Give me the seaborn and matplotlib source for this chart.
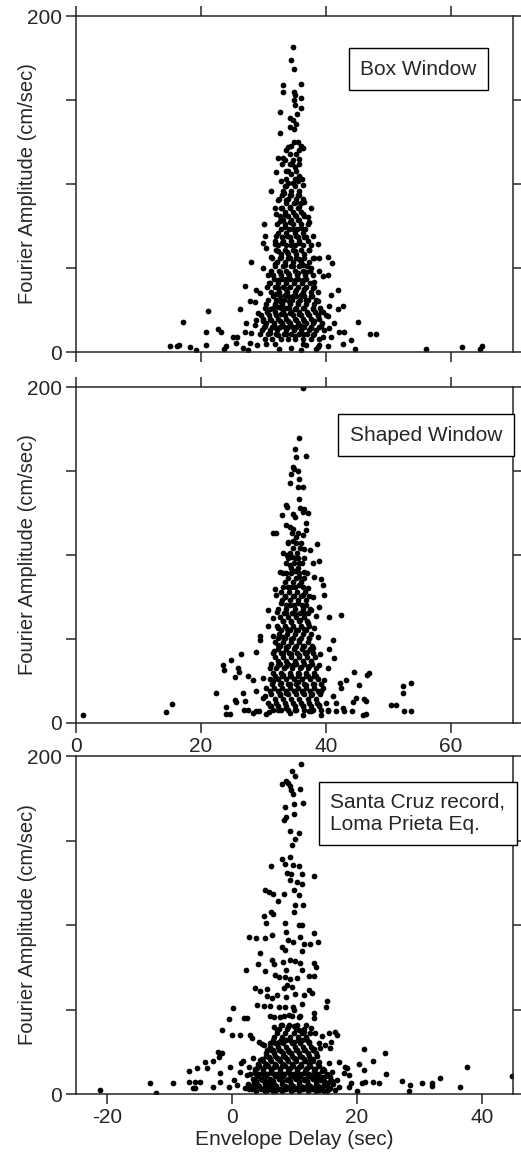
import pandas as pd
import seaborn as sns
import matplotlib.pyplot as plt

sns.set_style("ticks")
plt.rcParams["font.family"] = ["Liberation Sans", "DejaVu Sans"]
plt.rcParams["axes.unicode_minus"] = False

# ---- Box Window: (envelope delay, amplitude) ----
box_points = [
    (34.7, 181.5), (34.4, 173.8), (34.9, 168.5), (33.1, 159.1), (36.0, 159.5), (33.1, 155.0),
    (34.9, 154.6), (35.0, 153.0), (36.0, 151.4), (34.9, 150.2), (35.0, 147.3), (36.0, 145.3),
    (32.7, 142.8), (35.4, 141.6), (34.2, 139.2), (34.7, 138.0), (34.9, 133.0), (34.3, 133.9),
    (35.2, 136.0), (32.6, 130.2),
    (34.0, 122.0), (34.5, 122.5), (36.1, 122.5), (36.3, 121.7), (33.6, 120.0), (35.7, 120.0),
    (32.3, 115.6), (33.1, 115.6), (33.5, 114.0), (34.7, 114.3), (35.7, 115.0), (34.2, 112.0),
    (35.0, 110.0), (33.7, 108.0), (32.1, 107.0), (34.5, 106.0), (35.8, 105.0), (32.9, 102.0),
    (34.0, 100.7), (34.8, 100.7), (35.5, 101.7), (36.4, 99.7), (33.4, 98.7),
    (31.3, 95.6), (33.3, 94.6), (34.5, 93.6), (35.8, 93.2), (32.3, 90.5), (33.7, 90.5),
    (35.3, 89.5), (36.6, 89.5), (31.8, 85.9), (32.9, 85.5), (34.2, 86.5), (35.8, 86.5),
    (37.7, 85.5), (32.1, 82.4), (33.4, 81.8), (35.0, 81.4), (36.3, 82.4), (37.1, 80.4),
    (32.6, 77.7), (34.2, 77.3), (35.5, 78.3), (37.4, 77.3), (30.1, 76.3),
    (33.4, 74.3), (34.7, 73.2), (36.1, 73.7), (38.0, 69.2), (30.2, 69.2), (32.1, 69.2),
    (33.8, 69.2), (35.2, 68.8), (36.6, 68.2), (30.0, 65.1), (31.8, 64.1), (33.0, 64.7),
    (34.5, 63.5), (35.8, 64.7), (38.8, 64.1), (32.4, 60.0), (33.8, 59.4), (35.0, 60.0),
    (37.4, 61.0), (30.5, 62.1),
    (31.3, 56.6), (32.9, 56.6), (34.2, 56.0), (35.8, 55.3), (38.2, 56.0), (39.0, 56.0),
    (40.4, 56.6), (41.0, 52.9), (28.0, 53.3), (31.8, 52.5), (33.4, 51.9), (34.8, 51.3),
    (36.4, 51.9), (37.7, 49.8), (30.0, 49.8), (39.0, 48.4), (32.6, 47.8), (34.0, 47.2),
    (35.6, 46.8), (36.9, 47.8), (40.4, 45.8), (30.8, 45.8), (39.6, 45.2),
    (32.4, 42.7), (33.7, 43.7), (35.0, 42.7), (36.4, 43.1), (38.2, 41.7), (30.9, 41.1),
    (27.0, 39.1), (28.9, 37.0), (32.4, 38.3), (33.7, 37.6), (35.2, 37.0), (36.5, 37.6),
    (38.0, 38.3), (42.0, 37.0), (29.5, 35.0), (32.1, 34.6), (33.4, 34.2), (34.8, 33.6),
    (36.1, 34.2), (37.7, 33.6), (40.9, 34.2), (27.8, 30.1), (28.6, 29.5), (32.6, 30.5),
    (34.1, 30.5), (35.6, 29.5), (36.9, 30.9), (38.8, 30.5),
    (26.2, 25.8), (42.8, 27.5), (42.0, 25.4), (40.6, 27.5), (31.0, 25.4), (32.4, 26.9),
    (33.7, 26.4), (35.0, 25.4), (36.4, 26.4), (38.0, 25.4), (39.3, 24.4), (21.2, 24.4),
    (29.2, 23.4), (32.9, 22.8), (34.2, 23.4), (35.7, 22.4), (37.2, 22.8), (38.8, 21.4),
    (40.4, 21.4), (28.9, 19.3), (30.0, 18.7), (31.3, 19.3), (32.6, 18.3), (34.0, 18.7),
    (35.3, 19.3), (36.6, 18.3), (38.2, 18.7), (41.4, 17.3), (17.2, 17.7), (45.2, 17.7),
    (27.3, 17.3), (28.6, 15.9), (30.2, 15.3), (31.8, 14.6), (33.2, 15.3), (34.7, 14.6),
    (36.1, 15.3), (37.7, 14.2), (39.3, 15.3), (40.6, 14.2),
    (22.8, 13.8), (23.3, 12.2), (20.9, 12.2), (25.2, 9.2), (25.8, 9.2), (27.0, 11.8),
    (28.1, 11.2), (29.4, 10.6), (31.0, 11.2), (32.4, 10.2), (33.7, 10.6), (35.0, 9.8),
    (36.4, 10.6), (38.0, 10.2), (39.5, 9.2), (40.9, 9.2), (42.2, 11.8), (43.0, 11.8),
    (44.1, 7.1), (47.1, 10.8), (48.0, 10.8), (25.7, 5.1), (27.8, 5.1), (29.0, 4.1),
    (30.5, 4.5), (31.8, 4.5), (32.5, 1.5), (34.5, 2.5), (36.1, 1.2), (38.4, 1.5),
    (19.3, 1.0), (27.5, 1.0), (26.7, 2.4), (23.7, 1.5), (24.0, 3.4), (18.2, 3.0),
    (15.1, 3.8), (16.1, 3.8), (16.5, 4.1), (20.9, 4.3), (44.7, 1.5), (56.1, 1.5),
    (61.9, 2.8), (64.7, 1.8), (65.1, 3.6), (38.7, 3.0), (39.0, 4.0), (40.4, 3.4),
    (42.8, 4.5), (36.3, 5.0), (36.9, 4.0),
]
box_rows = [
    (8, [30.2, 31.4, 32.8, 33.9, 35.1, 36.3, 37.6, 38.9]),
    (10.5, [30.8, 32.1, 33.3, 34.5, 35.7, 37.0, 38.2]),
    (13, [29.8, 31.0, 32.2, 33.6, 34.9, 36.1, 37.3, 38.5, 39.8]),
    (15, [30.1, 31.4, 32.6, 33.9, 35.2, 36.5, 37.7, 39.0]),
    (17, [30.4, 31.7, 33.0, 34.2, 35.5, 36.8, 38.0, 39.4]),
    (19.5, [29.9, 31.1, 32.4, 33.7, 35.0, 36.3, 37.6, 38.9]),
    (22, [29.6, 30.9, 32.1, 33.4, 34.7, 36.0, 37.4, 38.7, 40.0]),
    (24, [30.6, 31.9, 33.1, 34.4, 35.7, 37.0, 38.3, 39.6]),
    (26, [30.2, 31.5, 32.8, 34.1, 35.3, 36.6, 37.9, 39.1]),
    (28.5, [30.5, 31.8, 33.0, 34.3, 35.6, 36.9, 38.1]),
    (31, [30.8, 32.0, 33.3, 34.6, 35.9, 37.2, 38.5]),
    (33.5, [31.5, 32.7, 34.0, 35.2, 36.5, 37.8]),
    (36, [31.2, 32.5, 33.8, 35.1, 36.3, 37.6, 38.8]),
    (38.5, [30.6, 31.9, 33.1, 34.3, 35.6, 36.9, 38.2]),
    (41, [31.0, 32.3, 33.6, 34.9, 36.2, 37.5]),
    (43.5, [31.7, 33.0, 34.2, 35.5, 36.8]),
    (46, [31.5, 32.8, 34.1, 35.4, 36.7, 38.0]),
    (48.5, [31.2, 32.5, 33.7, 35.0, 36.3, 37.5]),
    (51, [31.8, 33.1, 34.4, 35.7, 37.0]),
    (53.5, [32.2, 33.4, 34.7, 36.0, 37.3]),
    (56, [31.4, 32.7, 34.0, 35.3, 36.6, 37.9]),
    (58.5, [32.8, 34.0, 35.3, 36.6]),
    (61, [32.1, 33.4, 34.7, 36.0, 37.3]),
    (63.5, [32.4, 33.7, 35.0, 36.3, 37.6]),
    (66, [31.9, 33.2, 34.5, 35.8, 37.1]),
    (68.5, [33.0, 34.2, 35.5, 36.8]),
    (71, [32.4, 33.7, 35.0, 36.3]),
    (73.5, [32.9, 34.1, 35.4, 36.7]),
    (76, [32.2, 33.5, 34.8, 36.1, 37.2]),
    (78.5, [33.2, 34.4, 35.7]),
    (81, [32.7, 34.0, 35.3, 36.6]),
    (83.5, [33.4, 34.7, 36.0]),
    (86, [33.0, 34.3, 35.6]),
    (88.5, [33.6, 34.9, 36.1]),
    (91, [32.5, 33.9, 35.2, 36.4]),
    (93.5, [33.0, 34.2, 35.5]),
    (96, [33.2, 34.5, 35.8]),
    (99, [33.7, 35.1]),
    (103, [33.6, 35.0, 36.2]),
    (108, [34.0, 35.3]),
    (112, [33.0, 34.6, 35.8]),
    (118, [34.2, 35.2]),
    (125, [34.9, 35.5]),
]

# ---- Shaped Window ----
shaped_points = [
    (36.4, 199.2), (35.8, 169.9), (35.1, 162.8), (35.3, 158.4), (36.9, 158.8), (34.7, 152.5),
    (34.9, 150.9), (35.5, 150.1), (34.4, 148.5), (35.8, 145.3), (34.2, 143.0), (35.6, 140.6),
    (36.3, 140.2), (35.8, 133.5), (35.9, 127.9), (36.5, 127.5), (33.6, 129.5), (33.8, 128.3),
    (33.0, 124.0), (34.7, 124.4), (35.0, 122.8), (36.4, 125.7), (37.2, 125.1), (33.6, 118.0),
    (34.3, 116.8), (34.8, 115.2), (36.9, 118.8), (36.9, 114.9), (31.6, 112.9), (32.1, 112.9),
    (34.0, 107.9), (34.7, 108.1), (35.3, 110.9), (36.3, 111.7),
    (38.6, 106.5), (36.5, 103.4), (37.5, 103.0), (33.1, 101.0), (33.8, 100.2), (34.6, 99.0),
    (35.6, 98.0), (38.9, 96.6), (38.0, 95.0), (34.3, 94.1), (35.8, 95.0), (32.6, 90.1),
    (33.7, 89.5), (35.0, 90.7), (36.6, 90.1), (35.8, 87.1), (38.1, 87.1), (39.2, 85.5),
    (31.8, 79.6), (33.2, 81.2), (34.5, 80.8), (35.8, 82.2), (37.2, 80.2), (39.5, 82.2),
    (32.1, 76.2), (33.4, 75.2), (34.9, 75.6), (36.4, 76.2), (38.0, 75.2), (39.7, 76.2),
    (32.9, 71.3), (34.2, 70.3), (35.6, 71.3), (36.9, 70.3), (39.0, 69.3), (30.8, 67.3),
    (32.2, 66.3), (33.6, 65.3), (35.0, 64.9), (36.5, 65.3), (37.7, 67.3), (42.4, 64.0),
    (40.5, 62.8), (31.6, 62.4), (33.1, 61.0), (34.5, 60.4), (35.9, 61.4), (37.2, 59.4),
    (38.5, 63.4),
    (30.8, 57.8), (32.4, 56.4), (33.8, 55.8), (35.3, 55.4), (36.6, 55.8), (38.2, 56.4),
    (29.4, 51.5), (29.4, 49.5), (31.6, 51.9), (33.1, 51.1), (34.5, 49.9), (35.8, 49.5),
    (37.3, 50.5), (38.8, 51.1), (41.2, 49.5), (32.4, 46.5), (33.7, 45.5), (35.0, 45.1),
    (36.4, 45.9), (38.0, 44.6), (40.5, 44.2), (28.8, 42.0), (31.7, 42.6), (33.1, 41.6),
    (34.4, 41.2), (35.7, 40.6), (37.0, 42.0), (39.1, 41.2), (26.4, 40.8), (24.9, 37.6),
    (41.4, 38.6),
    (23.6, 34.7), (23.7, 31.7), (26.0, 32.7), (26.1, 30.1), (27.6, 28.1), (28.4, 25.7),
    (30.0, 26.7), (31.0, 32.7), (32.4, 34.7), (33.7, 33.7), (34.8, 34.7), (36.1, 33.3),
    (37.4, 34.1), (39.0, 34.7), (40.4, 32.7), (33.2, 28.7), (34.5, 28.1), (35.8, 29.3),
    (37.2, 27.7), (38.5, 28.1), (39.8, 25.7), (44.5, 30.1), (47.0, 29.7), (46.6, 28.5),
    (43.3, 25.7), (42.3, 23.8), (45.4, 22.8), (25.4, 27.1), (31.6, 24.8), (32.9, 23.8),
    (34.2, 23.4), (35.6, 24.2), (36.9, 22.8), (38.2, 23.4), (52.4, 21.8), (53.6, 23.8),
    (52.3, 17.8), (22.4, 17.8), (28.9, 18.8), (30.3, 15.8), (32.6, 16.8), (33.7, 17.8),
    (35.0, 18.8), (36.4, 17.8), (37.7, 16.8), (39.3, 18.8), (41.2, 15.8), (42.5, 20.8),
    (26.8, 17.8),
    (44.9, 14.9), (46.2, 14.3), (46.4, 12.9), (44.3, 12.3), (42.8, 8.9), (41.7, 11.9),
    (40.4, 7.9), (39.0, 10.9), (37.7, 6.9), (36.4, 9.9), (35.0, 7.9), (33.7, 8.9),
    (32.4, 7.5), (31.0, 10.3), (30.0, 14.9), (28.9, 6.9), (27.6, 7.9), (27.0, 12.9),
    (25.7, 12.3), (25.4, 13.9), (24.0, 9.5), (24.0, 5.1), (24.6, 5.5), (26.9, 7.9),
    (28.4, 5.9), (29.3, 6.9), (30.5, 5.5), (30.9, 6.3), (34.2, 5.9), (36.4, 4.9),
    (37.4, 6.9), (39.3, 4.9), (40.4, 6.9), (41.7, 6.9), (43.0, 6.9), (44.2, 6.9),
    (45.9, 4.9), (46.5, 5.5), (50.5, 10.9), (51.3, 10.9), (52.6, 6.9), (53.7, 6.9),
    (14.4, 6.3), (15.3, 11.5), (1.1, 4.9),
]
shaped_rows = [
    (8, [31.5, 32.8, 34.0, 35.3, 36.6, 37.9, 39.2]),
    (10, [31.2, 32.4, 33.7, 35.0, 36.3, 37.6, 38.9]),
    (12, [30.7, 32.0, 33.4, 34.7, 36.0, 37.3, 38.6, 40.0]),
    (14.5, [31.9, 33.2, 34.5, 35.8, 37.1, 38.4]),
    (17, [31.3, 32.6, 33.9, 35.2, 36.5, 37.8, 39.1]),
    (19, [31.0, 32.3, 33.6, 34.9, 36.2, 37.5, 38.8]),
    (21, [30.4, 31.7, 33.0, 34.3, 35.6, 36.9, 38.2, 39.5]),
    (23.5, [31.4, 32.6, 33.9, 35.3, 36.6, 37.9, 39.2]),
    (26, [31.0, 32.3, 33.6, 34.9, 36.2, 37.5, 38.8]),
    (28, [31.9, 33.0, 34.3, 35.6, 36.9, 38.2]),
    (30, [31.6, 32.9, 34.2, 35.5, 36.8, 38.1]),
    (32.5, [32.0, 33.3, 34.6, 35.9, 37.2, 38.5]),
    (35, [31.3, 32.6, 33.9, 35.2, 36.5, 37.8]),
    (37, [32.4, 33.7, 35.0, 36.3, 37.6]),
    (39, [31.8, 33.1, 34.4, 35.7, 37.0, 38.3]),
    (41.5, [31.5, 32.8, 34.1, 35.4, 36.7, 37.9]),
    (44, [32.3, 33.6, 34.9, 36.2, 37.5]),
    (46, [32.6, 33.9, 35.2, 36.5, 37.8]),
    (48, [31.9, 33.2, 34.5, 35.8, 37.1]),
    (50.5, [32.3, 33.5, 34.8, 36.1, 37.4]),
    (53, [32.5, 33.8, 35.1, 36.4, 37.7]),
    (55.5, [32.9, 34.2, 35.5, 36.8]),
    (58, [32.2, 33.5, 34.8, 36.1, 37.4]),
    (60.5, [33.1, 34.4, 35.7, 37.0]),
    (63, [32.7, 34.0, 35.3, 36.6]),
    (65.5, [33.3, 34.6, 35.9, 37.1]),
    (68, [32.4, 33.7, 35.0, 36.3, 37.5]),
    (70.5, [33.6, 34.9, 36.2]),
    (73, [33.0, 34.3, 35.6, 36.9]),
    (75.5, [33.5, 34.7, 36.0, 37.3]),
    (78, [32.8, 34.1, 35.4, 36.7]),
    (81, [33.9, 35.1, 36.4]),
    (84, [33.4, 34.7, 36.0]),
    (86.5, [34.0, 35.3, 36.5]),
    (89, [33.1, 34.4, 35.7, 37.0]),
    (92, [34.4, 35.6]),
    (95, [33.6, 34.9, 36.2]),
    (98, [34.0, 35.0, 36.5]),
    (101, [34.2, 35.4]),
    (104, [34.8, 35.9]),
    (107, [33.9, 35.2, 36.0]),
    (113, [34.6, 35.6]),
]

# ---- Santa Cruz record, Loma Prieta Eq. ----
santa_points = [
    (11.0, 195.1), (9.6, 190.9), (10.0, 188.0), (8.0, 183.6), (8.7, 185.2), (8.9, 184.0),
    (9.2, 182.0), (9.4, 179.7), (10.9, 180.5), (9.8, 177.7), (9.9, 171.8), (11.4, 172.2),
    (8.4, 169.9), (9.9, 165.5), (8.7, 163.9), (8.3, 162.0), (9.3, 155.7), (10.8, 154.5),
    (10.1, 150.7), (9.6, 147.2), (8.0, 139.3), (9.2, 140.3), (6.3, 134.8), (8.5, 136.0),
    (9.8, 135.6), (10.7, 134.8), (8.8, 130.8), (9.4, 130.0), (13.2, 128.9), (11.2, 130.4),
    (9.3, 126.5), (10.4, 125.5), (11.2, 124.5), (5.3, 121.0), (5.9, 119.6), (6.6, 118.2),
    (8.3, 118.2), (9.9, 120.6), (10.7, 117.6), (7.4, 114.3), (10.1, 111.7), (11.4, 111.9),
    (5.1, 105.2), (6.2, 107.8), (6.6, 106.4), (5.5, 100.9), (9.9, 107.8), (8.5, 100.9),
    (11.2, 99.9), (10.7, 99.9),
    (2.7, 93.0), (3.9, 92.6), (5.3, 92.6), (6.4, 94.0), (8.7, 96.0), (8.9, 91.0),
    (9.8, 90.0), (10.9, 93.0), (11.5, 89.0), (13.2, 95.4), (13.7, 90.0), (12.5, 88.7),
    (8.0, 87.1), (8.5, 85.5), (11.2, 84.7), (4.5, 83.2), (6.4, 79.2), (6.7, 76.8),
    (4.2, 76.8), (5.3, 72.9), (8.2, 78.2), (9.3, 79.2), (10.1, 78.8), (10.9, 77.6),
    (13.1, 77.6), (13.5, 75.3), (2.3, 73.3), (8.7, 73.3), (11.2, 73.3),
    (6.9, 70.3), (7.5, 69.0), (8.5, 69.4), (9.3, 67.8), (10.4, 68.4), (12.3, 69.8),
    (13.1, 69.8), (8.8, 64.4), (9.6, 63.4), (8.3, 62.5), (3.6, 62.5), (4.4, 61.1),
    (5.6, 61.9), (5.6, 57.9), (6.4, 57.1), (7.2, 58.5), (8.7, 57.5), (10.1, 59.1),
    (11.5, 58.5), (12.3, 61.5), (12.8, 59.5), (15.2, 55.2), (15.1, 51.6), (4.0, 52.6),
    (5.1, 52.0), (6.1, 52.0), (7.5, 51.6), (8.5, 51.2), (9.8, 51.6), (11.2, 53.2),
    (0.2, 50.6), (1.9, 44.7), (2.4, 44.7), (-0.5, 44.1), (6.0, 46.1), (6.7, 45.3),
    (7.7, 45.7), (9.1, 46.7), (9.9, 49.7), (10.7, 45.7), (13.1, 48.1), (13.1, 44.7),
    (-1.6, 37.8), (0.0, 35.1), (1.2, 34.9), (-2.3, 25.0), (-1.6, 24.4), (-4.4, 19.1),
    (-3.1, 19.7), (-2.1, 22.1), (-6.9, 13.8), (-5.6, 15.2), (-4.0, 15.2), (-1.9, 12.2),
    (-0.4, 15.8), (2.9, 34.9), (3.2, 32.9), (4.3, 30.9), (5.1, 29.0), (5.6, 26.0),
    (6.7, 39.8), (7.2, 37.8), (8.0, 40.8), (8.9, 39.4), (9.9, 40.2), (10.7, 37.8),
    (11.6, 36.8), (12.6, 38.8), (13.3, 35.9), (14.4, 34.3), (15.5, 35.9), (16.5, 36.8),
    (16.8, 34.9), (15.9, 30.9), (14.9, 29.0), (13.9, 30.0), (12.3, 30.9), (11.2, 31.9),
    (9.9, 30.9), (8.7, 31.9), (7.5, 30.9), (6.1, 30.0), (4.8, 29.6), (15.7, 27.0),
    (14.1, 27.0), (13.1, 26.4), (11.7, 26.0), (10.4, 26.0), (9.1, 25.0), (7.8, 25.6),
    (6.6, 26.0), (21.2, 26.4), (24.5, 24.0), (22.6, 19.7), (20.4, 17.7), (21.2, 14.2),
    (24.6, 11.8), (37.7, 16.2), (44.9, 10.6),
    (1.8, 19.7), (1.4, 18.1), (3.4, 21.1), (4.5, 20.1), (5.9, 22.1), (7.2, 21.1),
    (8.5, 22.1), (9.9, 21.1), (11.2, 21.7), (12.5, 20.5), (13.9, 19.1), (15.5, 18.5),
    (17.1, 19.1), (18.1, 16.2), (18.4, 15.2), (2.7, 16.2), (4.0, 15.2), (5.3, 16.6),
    (6.7, 15.8), (8.0, 16.6), (9.3, 15.2), (10.7, 16.2), (12.0, 15.2), (13.3, 14.6),
    (14.7, 14.2), (16.0, 13.2), (17.9, 12.2), (18.7, 11.2), (20.8, 6.7), (21.3, 7.3),
    (22.5, 7.3), (23.6, 6.3), (27.2, 7.9), (28.5, 5.3), (28.4, 2.0), (30.4, 6.3),
    (32.0, 6.3), (32.0, 4.7), (33.3, 9.3), (36.5, 4.3), (20.0, 2.0), (18.8, 3.9),
    (17.2, 4.3), (15.7, 3.3), (14.4, 4.3), (13.1, 3.3), (11.7, 4.3), (10.4, 3.3),
    (9.1, 3.9), (7.7, 2.8), (6.4, 4.3), (5.1, 3.3), (3.7, 4.3), (2.1, 3.3),
    (0.8, 5.3), (-0.5, 4.3), (-1.9, 7.3), (-3.1, 4.3), (-5.2, 7.3), (-5.9, 7.3),
    (-6.2, 3.3), (-5.9, 3.3), (-6.9, 7.3), (-9.5, 6.3), (-13.2, 6.7), (-12.2, 0.8),
    (-21.2, 2.4), (3.5, 7.3), (4.8, 8.3), (6.1, 7.3), (7.5, 9.3), (8.8, 8.3),
    (10.1, 9.3), (11.5, 8.3), (12.8, 9.3), (14.1, 8.3), (15.5, 7.3), (16.8, 8.3),
    (2.4, 11.2), (3.7, 12.2), (5.1, 11.2), (6.4, 12.2), (7.7, 11.2), (9.1, 12.2),
    (10.4, 11.2), (11.7, 12.2), (13.1, 11.2), (14.4, 10.2), (15.7, 10.2), (19.0, 6.3),
    (16.5, 2.4), (1.3, 13.2), (0.3, 8.3), (15.2, 2.0), (13.9, 2.4), (12.5, 2.8),
    (9.6, 2.4), (8.3, 2.8), (6.9, 2.0), (5.6, 2.4), (2.7, 2.8),
]
santa_rows = [
    (1.5, [3.9, 5.3, 6.6, 8.0, 9.4, 10.8, 12.1, 13.5, 14.8]),
    (3, [3.2, 4.6, 6.0, 7.3, 8.7, 10.1, 11.4, 12.8, 14.2, 15.5]),
    (4.5, [3.0, 4.3, 5.7, 7.0, 8.4, 9.8, 11.1, 12.5, 13.8, 15.2]),
    (6, [2.6, 4.0, 5.3, 6.7, 8.0, 9.4, 10.8, 12.1, 13.5, 14.8, 16.2]),
    (7.5, [3.9, 5.2, 6.6, 8.0, 9.3, 10.7, 12.0, 13.4, 14.7, 16.0]),
    (9, [3.4, 4.7, 6.1, 7.5, 8.9, 10.2, 11.6, 12.9, 14.3]),
    (10.5, [4.0, 5.4, 6.8, 8.1, 9.5, 10.9, 12.2, 13.6, 15.0]),
    (12, [2.9, 4.3, 5.6, 7.0, 8.3, 9.7, 11.1, 12.4, 13.8, 15.2]),
    (13.5, [3.6, 5.0, 6.3, 7.7, 9.0, 10.4, 11.7, 13.1, 14.4]),
    (15, [3.6, 5.0, 6.3, 7.7, 9.1, 10.4, 11.8, 13.1, 14.5]),
    (16.5, [4.3, 5.7, 7.0, 8.4, 9.8, 11.1, 12.5, 13.9]),
    (18, [4.2, 5.5, 6.9, 8.2, 9.6, 11.0, 12.3, 13.7]),
    (19.5, [4.9, 6.2, 7.6, 8.9, 10.3, 11.7, 13.0]),
    (21, [4.8, 6.1, 7.5, 8.8, 10.2, 11.5, 12.9]),
    (22.5, [5.5, 6.9, 8.2, 9.6, 10.9, 12.3, 13.6]),
    (24, [5.4, 6.7, 8.1, 9.4, 10.8, 12.1, 13.5]),
    (26, [6.2, 7.5, 8.9, 10.3, 11.6, 12.9]),
    (28, [6.0, 7.3, 8.7, 10.0, 11.4, 12.7]),
    (30, [6.9, 8.2, 9.6, 10.9, 12.3]),
    (32, [6.6, 7.9, 9.3, 10.6, 12.0]),
    (34, [6.7, 8.0, 9.3, 10.6, 11.9]),
    (36, [7.2, 8.5, 9.9, 11.2, 12.5]),
    (38.5, [7.5, 8.8, 10.2, 11.5]),
    (41, [7.8, 9.1, 10.4, 11.8]),
    (46, [8.3, 9.6, 10.9]),
]

panel_labels = ["Box Window", "Shaped Window", "Santa Cruz record,\nLoma Prieta Eq."]
amp_ticks = [0, 50, 100, 150, 200]
amp_labels = ["0", "", "", "", "200"]


def to_frame(points, rows):
    xs = [p[0] for p in points]
    ys = [p[1] for p in points]
    for y, row in rows:
        xs += row
        ys += [y] * len(row)
    return pd.DataFrame({"delay": xs, "amp": ys})


W, H = 521, 1158
fig = plt.figure(figsize=(W / 100, H / 100), dpi=100)
ax1 = fig.add_axes([76 / W, 1 - 352 / H, 437 / W, 336 / H])
ax2 = fig.add_axes([76 / W, 1 - 723 / H, 437 / W, 336 / H])
ax3 = fig.add_axes([76 / W, 1 - 1094 / H, 437 / W, 338 / H])

frames = [
    to_frame(box_points, box_rows),
    to_frame(shaped_points, shaped_rows),
    to_frame(santa_points, santa_rows),
]
label_pos = [(0.783, 0.841), (0.801, 0.857), (0.782, 0.830)]

for ax, df, lab, pos in zip([ax1, ax2, ax3], frames, panel_labels, label_pos):
    sns.scatterplot(data=df, x="delay", y="amp", ax=ax, color="black",
                    s=17, linewidth=0, legend=False)
    ax.set_ylim(0, 200)
    ax.set_yticks(amp_ticks)
    ax.set_yticklabels(amp_labels)
    ax.set_ylabel("Fourier Amplitude (cm/sec)", fontsize=14.5)
    ax.yaxis.set_label_coords(-0.09, 0.5)
    ax.set_xlabel("")
    for sp in ax.spines.values():
        sp.set_linewidth(1.1)
    ax.tick_params(direction="out", length=7, width=1.1, pad=3,
                   labelsize=15, top=True, right=True)
    ax.text(pos[0], pos[1], lab, transform=ax.transAxes, ha="center",
            va="center", fontsize=15, multialignment="left", zorder=5,
            bbox=dict(boxstyle="square,pad=0.55", fc="white", ec="black", lw=1))

for ax in [ax1, ax2]:
    ax.set_xlim(0, 70)
    ax.set_xticks([0, 20, 40, 60])
ax1.tick_params(labelbottom=False)

ax3.set_xlim(-25, 45)
ax3.set_xticks([-20, 0, 20, 40])
ax3.tick_params(top=False)
ax3.set_xlabel("Envelope Delay (sec)", fontsize=15, labelpad=2)

fig.savefig("out.png", dpi=100)
